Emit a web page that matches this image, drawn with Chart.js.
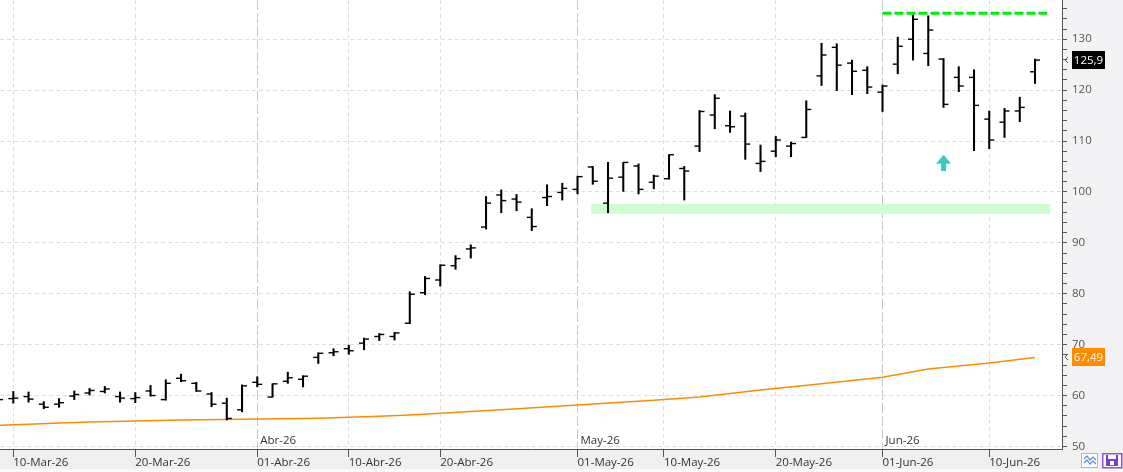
<!DOCTYPE html>
<html><head><meta charset="utf-8">
<script src="https://cdn.jsdelivr.net/npm/chart.js@4.4.1/dist/chart.umd.min.js"></script>
<style>html,body{margin:0;padding:0;background:#fff;overflow:hidden}#wrap{position:relative;width:1123px;height:472px}canvas{display:block}</style>
</head><body><div id="wrap"><canvas id="c" width="1123" height="472"></canvas></div>
<script>
// ---- data ----
const dates = ['09-Mar-26','10-Mar-26','11-Mar-26','12-Mar-26','13-Mar-26','16-Mar-26','17-Mar-26','18-Mar-26','19-Mar-26','20-Mar-26','23-Mar-26','24-Mar-26','25-Mar-26','26-Mar-26','27-Mar-26','30-Mar-26','31-Mar-26',
'01-Abr-26','02-Abr-26','06-Abr-26','07-Abr-26','08-Abr-26','09-Abr-26','10-Abr-26','13-Abr-26','14-Abr-26','15-Abr-26','16-Abr-26','17-Abr-26','20-Abr-26','21-Abr-26','22-Abr-26','23-Abr-26','24-Abr-26','27-Abr-26','28-Abr-26','29-Abr-26','30-Abr-26',
'01-May-26','04-May-26','05-May-26','06-May-26','07-May-26','08-May-26','11-May-26','12-May-26','13-May-26','14-May-26','15-May-26','18-May-26','19-May-26','20-May-26','21-May-26','22-May-26','26-May-26','27-May-26','28-May-26','29-May-26',
'01-Jun-26','02-Jun-26','03-Jun-26','04-Jun-26','05-Jun-26','08-Jun-26','09-Jun-26','10-Jun-26','11-Jun-26','12-Jun-26','15-Jun-26'];
const opens = [59.3,59.4,59.8,58.3,58.3,59.9,60.5,60.8,59.8,59.4,60.9,59.2,63.4,62.4,60.3,58.5,57.2,62.6,59.7,62.8,63.2,67.5,68.4,69.2,70.3,71.6,71.6,74.2,80.2,82.7,85.5,88.8,93.1,99.4,98.6,95.0,98.9,99.9,100.5,104.9,97.8,102.9,105.1,101.9,102.6,104.6,109.0,115.1,113.0,114.9,105.6,108.0,109.0,110.7,122.8,128.4,125.3,123.9,119.6,125.1,130.0,127.2,126.1,122.5,122.5,114.3,113.7,115.9,123.6];
const highs = [59.8,60.8,60.7,58.8,59.4,60.9,61.4,61.8,60.7,60.6,62.0,63.1,64.2,62.6,60.6,59.5,62.1,63.7,62.3,64.6,63.9,68.4,69.2,69.9,71.3,72.2,72.4,80.4,83.4,85.7,87.5,89.6,99.1,100.4,99.5,96.7,101.4,101.7,103.1,105.0,105.8,105.8,105.5,103.3,107.3,105.0,116.0,119.1,115.9,115.5,109.2,110.9,109.8,117.9,129.2,129.1,125.9,124.6,121.0,130.4,134.8,134.6,126.2,124.6,124.0,115.9,116.4,118.6,126.1];
const lows = [58.8,58.5,58.7,57.4,57.7,59.2,60.1,60.5,58.7,58.6,59.9,59.1,62.7,60.8,57.8,55.2,56.8,61.7,59.7,62.4,61.7,66.3,67.8,68.1,69.0,70.8,70.9,74.1,79.8,81.5,84.8,87.0,92.7,95.9,96.3,92.4,97.3,98.4,99.6,101.5,95.9,100.1,99.6,100.6,102.5,98.4,107.9,112.4,111.7,106.4,104.0,106.9,106.9,110.7,120.9,119.9,119.1,119.3,115.8,123.2,125.9,124.8,116.6,119.7,108.1,108.5,110.7,113.8,121.3];
const closes = [59.2,59.5,59.3,57.7,58.6,60.2,61.0,61.3,59.5,59.6,60.0,62.4,62.9,60.9,58.3,55.5,61.9,62.2,62.3,63.5,63.8,68.3,68.6,68.8,71.1,72.0,72.3,79.9,83.0,85.6,86.9,89.0,97.8,98.3,98.0,93.2,99.1,100.7,103.0,102.1,102.7,105.8,100.5,103.1,107.3,104.1,115.8,118.4,112.8,109.4,106.0,110.2,109.5,116.2,126.9,124.9,123.7,120.6,120.8,128.6,133.9,131.8,117.2,120.8,117.0,110.2,115.9,116.6,125.9];
// moving average readings (session index, value)
const maIndex = [0,2,4,6,9,12,16,21,23,25,27,33,38,43,46,50,54,58,61,65,68];
const maValues = [54.15,54.35,54.6,54.8,55.0,55.2,55.35,55.55,55.75,55.95,56.2,57.2,58.15,59.1,59.7,61.1,62.3,63.6,65.2,66.4,67.49];
// axis ticks
const dateTickPos = [1,9,17,23,29,38,43.67,51,58,65];
const dateTickLabels = ['10-Mar-26','20-Mar-26','01-Abr-26','10-Abr-26','20-Abr-26','01-May-26','10-May-26','20-May-26','01-Jun-26','10-Jun-26'];
const monthTickPos = [17,38,58];
const monthLabels = ['Abr-26','May-26','Jun-26'];
const yTickValues = [50,52,54,56,58,60,62,64,66,68,70,72,74,76,78,80,82,84,86,88,90,92,94,96,98,100,102,104,106,108,110,112,114,116,118,120,122,124,126,128,130,132,134,136];
const yLabelValues = [50,60,70,80,90,100,110,120,130];
// annotations
const resistanceLevel = 135.1, resistanceFrom = 58, resistanceTo = 68.8;
const supportLow = 95.7, supportHigh = 97.6, supportFrom = 38.9, supportTo = 69.0;
const signalIndex = 62, signalValue = 105.75;
const lastCloseLabel = '125,9', lastMaLabel = '67,49';

// ---- helpers ----
const FONT = '"Open Sans", "Noto Sans", sans-serif';
function arrowCanvas(){
  const c = document.createElement('canvas'); c.width = 15; c.height = 16;
  const g = c.getContext('2d'); g.fillStyle = '#33cccc';
  g.beginPath(); g.moveTo(7.5,0); g.lineTo(15,9); g.lineTo(0,9); g.closePath(); g.fill();
  g.fillRect(5,9,5,7); return c;
}

const bgPlugin = {
  id:'bg',
  beforeDraw(chart){
    const {ctx, chartArea:a, width, height} = chart;
    ctx.save();
    ctx.fillStyle = '#ffffff'; ctx.fillRect(0,0,width,height);
    ctx.fillStyle = '#f3f3f6'; ctx.fillRect(a.right,0,width-a.right,a.bottom);
    ctx.fillStyle = '#f0f0f0'; ctx.fillRect(0,a.bottom,width,height-a.bottom);
    ctx.fillStyle = '#fafafa'; ctx.fillRect(0,height-3,width,3);
    ctx.restore();
  },
  beforeDatasetsDraw(chart){
    const {ctx, scales:{x,y}} = chart;
    const x1 = x.getPixelForValue(supportFrom), x2 = x.getPixelForValue(supportTo);
    const y1 = y.getPixelForValue(supportHigh), y2 = y.getPixelForValue(supportLow);
    ctx.save(); ctx.fillStyle = '#ccffcc'; ctx.fillRect(x1,y1,x2-x1,y2-y1); ctx.restore();
  },
  afterDraw(chart){
    const {ctx, chartArea:a, scales:{x,y}} = chart;
    ctx.save();
    // month labels
    ctx.font = '11.5px ' + FONT; ctx.fillStyle = '#333'; ctx.textBaseline = 'middle'; ctx.textAlign = 'left';
    monthTickPos.forEach((p,i)=>{ ctx.fillText(monthLabels[i], x.getPixelForValue(p)+3, a.bottom-8); });
    // value boxes
    function box(val, text, color){
      const yy = Math.round(y.getPixelForValue(val));
      ctx.fillStyle = color; ctx.fillRect(a.right+10, yy-9, 33, 18);
      ctx.fillStyle = '#ffffff'; ctx.textAlign = 'center'; ctx.textBaseline = 'middle';
      ctx.font = '11.5px ' + FONT; ctx.fillText(text, a.right+26.5, yy+0.5);
      ctx.strokeStyle = '#555'; ctx.lineWidth = 1; ctx.beginPath();
      ctx.moveTo(a.right+6, yy-3); ctx.lineTo(a.right+3, yy); ctx.lineTo(a.right+6, yy+3); ctx.stroke();
    }
    box(closes[closes.length-1], lastCloseLabel, '#000000');
    box(maValues[maValues.length-1], lastMaLabel, '#ff8c00');
    // bottom-right buttons
    ctx.fillStyle = '#fcfcfc'; ctx.fillRect(1081,453,17,15);
    ctx.strokeStyle = '#b8b8b8'; ctx.lineWidth = 1; ctx.strokeRect(1081.5,453.5,16,14);
    ctx.strokeStyle = '#5b8fd6'; ctx.lineWidth = 1.2;
    ctx.beginPath(); ctx.moveTo(1084,459); ctx.lineTo(1087,456); ctx.lineTo(1090,460); ctx.lineTo(1093,457); ctx.lineTo(1096,460); ctx.stroke();
    ctx.beginPath(); ctx.moveTo(1084,463); ctx.lineTo(1087,460); ctx.lineTo(1090,464); ctx.lineTo(1093,461); ctx.lineTo(1096,464); ctx.stroke();
    ctx.fillStyle = '#ffffff'; ctx.fillRect(1102,453,20,15);
    ctx.strokeStyle = '#8e55d6'; ctx.lineWidth = 1.5; ctx.strokeRect(1102.75,453.75,19,14);
    ctx.fillStyle = '#7b3fc6'; ctx.fillRect(1106,455,12,11);
    ctx.fillStyle = '#ffffff'; ctx.fillRect(1108,455,8,4); ctx.fillRect(1110,461,4,4);
    ctx.restore();
  }
};

const isMonth = v => monthTickPos.includes(v);

new Chart(document.getElementById('c'), {
  type: 'bar',
  data: { datasets: [
    { type:'line', data: maIndex.map((p,j)=>({x:p, y:maValues[j]})), borderColor:'#ff8c00', borderWidth:1.5, pointRadius:0, tension:0, order:10 },
    { type:'bar', data: dates.map((d,i)=>({x:i, y:[lows[i], highs[i]]})), backgroundColor:'#000', borderWidth:0, barThickness:1.4, order:6 },
    { type:'scatter', data: dates.map((d,i)=>({x:i, y:opens[i]})), pointStyle:'dash', pointRotation:180, pointRadius:5, pointBorderColor:'#000', pointBorderWidth:1.4, order:5 },
    { type:'scatter', data: dates.map((d,i)=>({x:i, y:closes[i]})), pointStyle:'dash', pointRotation:0, pointRadius:5, pointBorderColor:'#000', pointBorderWidth:1.4, order:4 },
    { type:'line', data: [{x:resistanceFrom, y:resistanceLevel},{x:resistanceTo, y:resistanceLevel}], borderColor:'#00ee00', borderWidth:3, borderDash:[9,3], pointRadius:0, order:3 },
    { type:'scatter', data: [{x:signalIndex, y:signalValue}], pointStyle: arrowCanvas(), pointRadius:8, order:2 }
  ]},
  options: {
    responsive:false, animation:false, events:[],
    layout:{ padding:0, autoPadding:false },
    plugins:{ legend:{display:false}, tooltip:{enabled:false} },
    scales: {
      x: {
        type:'linear', position:'bottom', min:0.128, max:69.77, offset:false,
        afterBuildTicks: s => { s.ticks = dateTickPos.map(v=>({value:v})); },
        afterFit: s => { s.height = 23; s.paddingLeft = 0; s.paddingRight = 0; },
        ticks:{ autoSkip:false, maxRotation:0, minRotation:0, align:'start', padding:-1, color:'#333', font:{family:FONT, size:11.5, lineHeight:1.2}, callback:(v,i)=>dateTickLabels[i] },
        grid:{ offset:false, color: c => (c.tick && isMonth(c.tick.value)) ? '#c9c9c9' : '#dedede', lineWidth:1, tickLength:8, tickColor:'#555', tickBorderDash:[] },
        border:{ display:true, color:'#555', width:1, dash: c => (c.tick && isMonth(c.tick.value)) ? [10,3] : [4,3] }
      },
      y: {
        type:'linear', position:'right', min:49.5, max:137.7,
        afterBuildTicks: s => { s.ticks = yTickValues.map(v=>({value:v})); },
        afterFit: s => { s.width = 61; s.paddingTop = 0; s.paddingBottom = 0; },
        ticks:{ autoSkip:false, padding:5, color:'#555', font:{family:FONT, size:11.5}, callback: v => yLabelValues.includes(v) ? String(v) : '' },
        grid:{ color: c => (c.tick && yLabelValues.includes(c.tick.value)) ? '#dedede' : 'rgba(0,0,0,0)', lineWidth:1, tickLength:5, tickColor:'#555', tickBorderDash:[] },
        border:{ display:true, color:'#555', width:1, dash:[4,3] }
      }
    }
  },
  plugins:[bgPlugin]
});
</script></body></html>
